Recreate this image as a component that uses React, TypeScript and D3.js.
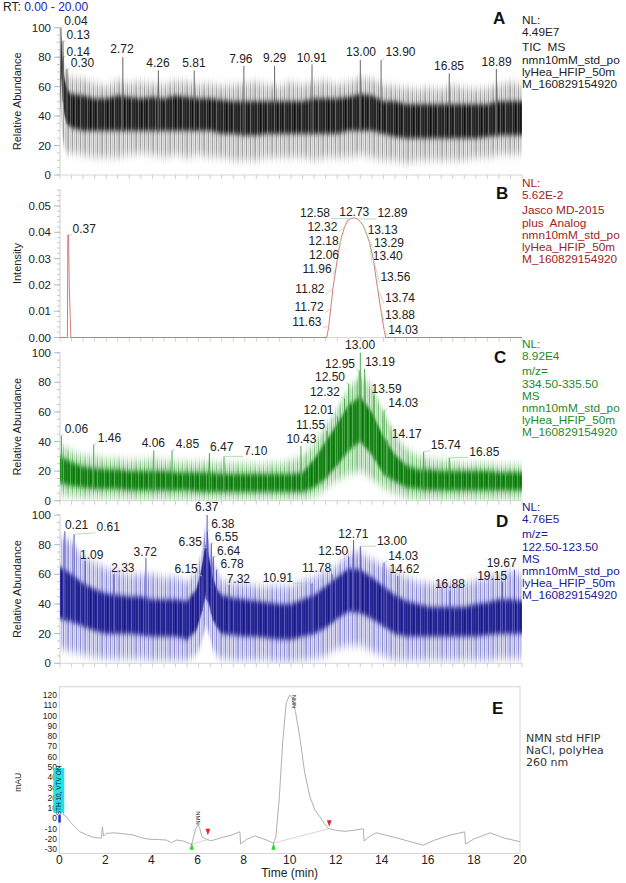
import React from "react";
import * as d3 from "d3";

const SANS = "'Liberation Sans', Arial, Helvetica, sans-serif";
const DEJAVU = "'DejaVu Sans', Verdana, sans-serif";

// ================= DATA =================
// Panel A – TIC MS, envelope of the noisy trace (relative abundance %)
const timeA = [0, 0.05, 0.1, 0.2, 0.3, 0.5, 1, 1.5, 2, 2.5, 3, 3.5, 4, 4.5, 5, 5.5, 6, 6.5, 7, 7.5, 8, 8.5, 9, 9.5, 10, 10.5, 11, 11.5, 12, 12.5, 13, 13.5, 14, 14.5, 15, 15.5, 16, 16.5, 17, 17.5, 18, 18.5, 19, 19.5, 20];
const hiA = [60, 100, 90, 75, 68, 66, 65, 62, 60, 64, 62, 63, 62, 61, 64, 63, 61, 62, 60, 61, 62, 63, 61, 60, 63, 61, 63, 64, 61, 63, 66, 65, 61, 60, 59, 58, 59, 58, 61, 59, 58, 59, 61, 63, 61];
const coreHiA = [55, 95, 80, 65, 58, 55, 54, 52, 52, 54, 53, 52, 53, 52, 54, 53, 52, 52, 51, 50, 50, 50, 50, 50, 50, 50, 52, 52, 52, 53, 55, 54, 50, 50, 48, 48, 48, 48, 48, 48, 48, 48, 50, 50, 50];
const coreLoA = [40, 70, 55, 40, 35, 32, 30, 30, 30, 30, 30, 30, 30, 30, 30, 30, 30, 30, 28, 28, 27, 27, 28, 28, 28, 28, 28, 28, 28, 30, 30, 30, 28, 26, 25, 25, 25, 25, 25, 25, 25, 26, 27, 27, 27];
const loA = [30, 40, 25, 18, 15, 15, 14, 12, 12, 12, 14, 15, 14, 12, 14, 12, 14, 12, 12, 10, 10, 10, 12, 12, 12, 12, 10, 12, 12, 12, 14, 12, 10, 10, 8, 10, 10, 10, 10, 10, 12, 12, 14, 14, 14];
// [label, peak time, peak value, label centre time, label baseline value]
const peaksA: [string, number, number, number, number][] = [
  ["0.04", 0.04, 100, 0.69, 102],
  ["0.13", 0.13, 91, 0.79, 92],
  ["0.14", 0.14, 81, 0.79, 81],
  ["0.30", 0.3, 72, 0.97, 73],
  ["2.72", 2.72, 80, 2.68, 83],
  ["4.26", 4.26, 71, 4.24, 73],
  ["5.81", 5.81, 71, 5.8, 73],
  ["7.96", 7.96, 74, 7.83, 76],
  ["9.29", 9.29, 74, 9.29, 76.4],
  ["10.91", 10.91, 75, 10.9, 77],
  ["13.00", 13.0, 78, 13.03, 80.5],
  ["13.90", 13.9, 78, 14.74, 80.5],
  ["16.85", 16.85, 69, 16.84, 71],
  ["18.89", 18.89, 72, 18.9, 73.7],
];
const infoA = ["NL:", "4.49E7", "TIC  MS", "nmn10mM_std_po", "lyHea_HFIP_50m", "M_160829154920"];

// Panel B – Jasco MD-2015 analog (intensity)
const timeB = [0, 0.32, 0.34, 0.37, 0.4, 0.47, 11.55, 11.63, 11.72, 11.82, 11.96, 12.06, 12.18, 12.32, 12.45, 12.58, 12.73, 12.89, 13.0, 13.13, 13.29, 13.4, 13.56, 13.74, 13.88, 14.03, 14.1, 20];
const valB = [0, 0, 0.039, 0.039, 0.02, 0, 0, 0.004, 0.011, 0.019, 0.027, 0.033, 0.038, 0.042, 0.0445, 0.0452, 0.0455, 0.045, 0.044, 0.0425, 0.039, 0.036, 0.03, 0.019, 0.011, 0.003, 0, 0];
const peaksB: [string, number, number, number, number][] = [
  ["0.37", 0.37, 0.039, 1.05, 0.0397],
  ["11.63", 11.63, 0.004, 10.69, 0.0045],
  ["11.72", 11.72, 0.011, 10.78, 0.01],
  ["11.82", 11.82, 0.019, 10.82, 0.0169],
  ["11.96", 11.96, 0.027, 11.13, 0.0245],
  ["12.06", 12.06, 0.033, 11.43, 0.0298],
  ["12.18", 12.18, 0.038, 11.41, 0.0352],
  ["12.32", 12.32, 0.042, 11.36, 0.0406],
  ["12.58", 12.58, 0.0452, 11.04, 0.0458],
  ["12.73", 12.73, 0.0455, 12.74, 0.0463],
  ["12.89", 12.89, 0.045, 14.39, 0.0457],
  ["13.13", 13.13, 0.0425, 13.97, 0.0394],
  ["13.29", 13.29, 0.039, 14.24, 0.0343],
  ["13.40", 13.4, 0.036, 14.19, 0.0295],
  ["13.56", 13.56, 0.03, 14.52, 0.0216],
  ["13.74", 13.74, 0.019, 14.72, 0.0134],
  ["13.88", 13.88, 0.011, 14.72, 0.007],
  ["14.03", 14.03, 0.003, 14.86, 0.0013],
];
const infoB = ["NL:", "5.62E-2", "Jasco MD-2015", "plus  Analog", "nmn10mM_std_po", "lyHea_HFIP_50m", "M_160829154920"];

// Panel C – m/z 334.50-335.50
const timeC = [0, 0.5, 1, 1.5, 2, 2.5, 3, 3.5, 4, 4.5, 5, 5.5, 6, 6.5, 7, 7.5, 8, 8.5, 9, 9.5, 10, 10.5, 11, 11.5, 12, 12.5, 13, 13.5, 14, 14.5, 15, 15.5, 16, 16.5, 17, 17.5, 18, 18.5, 19, 19.5, 20];
const hiC = [38, 33, 30, 30, 28, 28, 27, 27, 28, 27, 26, 26, 26, 26, 25, 25, 25, 24, 25, 25, 27, 30, 38, 50, 62, 76, 84, 78, 60, 45, 35, 30, 28, 27, 26, 25, 25, 25, 24, 24, 24];
const coreHiC = [30, 26, 23, 22, 21, 21, 20, 20, 20, 20, 19, 19, 19, 19, 18, 18, 18, 18, 18, 18, 18, 19, 28, 40, 52, 65, 70, 60, 43, 31, 24, 21, 21, 20, 20, 20, 20, 20, 19, 19, 19];
const coreLoC = [12, 10, 9, 8, 8, 8, 7, 7, 7, 7, 7, 7, 6, 6, 6, 6, 6, 6, 6, 6, 6, 6, 9, 15, 24, 34, 40, 31, 18, 13, 9, 8, 7, 7, 7, 7, 7, 7, 7, 7, 7];
const loC = [4, 3, 2, 2, 2, 2, 1, 1, 1, 1, 1, 1, 1, 1, 1, 1, 1, 1, 1, 1, 1, 1, 3, 8, 14, 18, 20, 15, 9, 5, 2, 1, 1, 1, 1, 1, 1, 1, 1, 1, 1];
const peaksC: [string, number, number, number, number][] = [
  ["0.06", 0.06, 44, 0.71, 45.7],
  ["1.46", 1.46, 38, 2.14, 39.9],
  ["4.06", 4.06, 34, 4.04, 36],
  ["4.85", 4.85, 34, 5.52, 35.4],
  ["6.47", 6.47, 32, 7.0, 33.4],
  ["7.10", 7.1, 30, 8.47, 30.9],
  ["10.43", 10.43, 37, 10.45, 38.8],
  ["11.55", 11.55, 47, 10.85, 48.4],
  ["12.01", 12.01, 57, 11.19, 58.6],
  ["12.32", 12.32, 69, 11.47, 70.9],
  ["12.50", 12.5, 79, 11.69, 81],
  ["12.95", 12.95, 88, 12.12, 90],
  ["13.00", 13.0, 100, 12.99, 102.5],
  ["13.19", 13.19, 89, 13.85, 90.8],
  ["13.59", 13.59, 71, 14.14, 72.6],
  ["14.03", 14.03, 61, 14.86, 63.1],
  ["14.17", 14.17, 41, 15.01, 42.4],
  ["15.74", 15.74, 33, 16.7, 34.9],
  ["16.85", 16.85, 29, 18.37, 30.4],
];
const infoC = ["NL:", "8.92E4", "m/z=", "334.50-335.50", "MS", "nmn10mM_std_po", "lyHea_HFIP_50m", "M_160829154920"];

// Panel D – m/z 122.50-123.50
const timeD = [0, 0.5, 1, 1.5, 2, 2.5, 3, 3.5, 4, 4.5, 5, 5.5, 5.9, 6.1, 6.3, 6.45, 6.6, 6.8, 7, 7.5, 8, 8.5, 9, 9.5, 10, 10.5, 11, 11.5, 12, 12.5, 13, 13.5, 14, 14.5, 15, 15.5, 16, 16.5, 17, 17.5, 18, 18.5, 19, 19.5, 20];
const hiD = [85, 82, 72, 68, 64, 62, 60, 60, 60, 58, 58, 55, 62, 72, 92, 82, 70, 62, 56, 54, 54, 52, 52, 52, 52, 56, 58, 62, 66, 74, 75, 70, 66, 62, 58, 55, 54, 54, 54, 54, 56, 58, 60, 62, 60];
const coreHiD = [65, 60, 54, 50, 47, 46, 45, 45, 43, 43, 43, 42, 50, 62, 80, 72, 58, 50, 46, 44, 43, 42, 41, 40, 40, 43, 46, 52, 58, 64, 63, 58, 52, 46, 42, 40, 38, 38, 38, 38, 40, 41, 43, 43, 42];
const coreLoD = [30, 28, 25, 22, 20, 20, 20, 19, 18, 18, 18, 16, 22, 32, 45, 40, 30, 24, 20, 19, 18, 18, 17, 16, 16, 18, 20, 24, 30, 35, 34, 30, 25, 20, 18, 18, 18, 18, 18, 18, 18, 19, 20, 20, 20];
const loD = [10, 8, 6, 4, 3, 3, 3, 3, 2, 2, 2, 2, 6, 12, 25, 20, 10, 5, 3, 2, 2, 2, 2, 1, 1, 2, 3, 5, 10, 12, 12, 8, 5, 2, 2, 2, 2, 2, 2, 2, 2, 2, 3, 3, 3];
const peaksD: [string, number, number, number, number][] = [
  ["0.21", 0.21, 89, 0.72, 90.6],
  ["0.61", 0.61, 87, 2.09, 89],
  ["1.09", 1.09, 69, 1.37, 70.3],
  ["2.33", 2.33, 60, 2.72, 61.8],
  ["3.72", 3.72, 71, 3.69, 72.1],
  ["6.15", 6.15, 59, 5.46, 60.9],
  ["6.35", 6.35, 78, 5.64, 78.9],
  ["6.37", 6.37, 100, 6.35, 102.5],
  ["6.38", 6.38, 89, 7.05, 91.2],
  ["6.55", 6.55, 81, 7.21, 82.3],
  ["6.64", 6.64, 72, 7.3, 73],
  ["6.78", 6.78, 63, 7.45, 64],
  ["7.32", 7.32, 53, 7.72, 54.1],
  ["10.91", 10.91, 54, 9.43, 55],
  ["11.78", 11.78, 60, 11.11, 61.4],
  ["12.50", 12.5, 72, 11.83, 73.2],
  ["12.71", 12.71, 83, 12.7, 84.5],
  ["13.00", 13.0, 79, 14.37, 80],
  ["14.03", 14.03, 68, 14.86, 69.9],
  ["14.62", 14.62, 59, 14.91, 60.7],
  ["16.88", 16.88, 49, 16.88, 50.6],
  ["19.15", 19.15, 55, 18.71, 56.2],
  ["19.67", 19.67, 63, 19.12, 64.7],
];
const infoD = ["NL:", "4.76E5", "m/z=", "122.50-123.50", "MS", "nmn10mM_std_po", "lyHea_HFIP_50m", "M_160829154920"];

// Panel E – UV 260 nm (mAU)
const timeE = [0.1, 0.2, 0.31, 0.5, 0.89, 1.2, 1.47, 1.83, 1.87, 1.92, 2.05, 2.4, 2.8, 3.2, 3.6, 3.93, 4.3, 4.65, 4.87, 5.1, 5.4, 5.67, 5.75, 5.92, 6.03, 6.1, 6.2, 6.39, 6.6, 7.1, 7.5, 7.84, 7.87, 8.13, 8.49, 9.0, 9.3, 9.4, 9.55, 9.7, 9.85, 10.0, 10.12, 10.25, 10.44, 10.65, 10.88, 11.1, 11.31, 11.5, 11.67, 12.0, 12.4, 12.8, 13.2, 13.23, 13.5, 13.75, 14.5, 15.3, 15.8, 16.3, 17.0, 17.6, 17.63, 18.0, 18.7, 19.3, 20.0];
const valE = [10, 3, 1.7, -4, -12.9, -16, -18.3, -19.3, -8, -17, -14.5, -14, -15, -16, -19, -20.3, -20.5, -21, -23.6, -21, -22, -24.8, -25, -10, -6, -10, -18, -20.3, -21.7, -18.3, -16, -12.9, -24.8, -20.3, -17, -21, -24, -18, 20, 75, 112, 120, 117, 104, 79, 45, 21, 8, 1.7, -5, -9.6, -11.5, -12.5, -11.5, -10, -22, -17, -14, -18, -23, -26, -21, -16, -13, -25, -20, -14, -19, -22.6];
const baselinesE: [number, number, number, number][] = [
  [5.75, -25, 6.45, -20.5],
  [9.3, -24, 11.7, -10],
];
const peakStartsE = [5.75, 9.3];
const peakEndsE: [number, number][] = [[6.45, -15], [11.72, -6.5]];
const peakNamesE: [string, number, number][] = [["NMN", 6.0, 0.4], ["NMN", 10.21, 113.6]];
const eventE: [string, number, number, number] = ["STH 10, VTV ON", 0, 5.5, 49];
const ticksE_y = [120, 110, 100, 90, 80, 70, 60, 50, 40, 30, 20, 10, 0, -10, -20, -30];
const ticksE_x = [0, 2, 4, 6, 8, 10, 12, 14, 16, 18, 20];
const infoE = ["NMN std HFIP", "NaCl, polyHea", "260 nm"];

const ticksPct = [0, 20, 40, 60, 80, 100];
const ticksB = [0, 0.01, 0.02, 0.03, 0.04, 0.05];

// ================= HELPERS =================
const X0 = 60, X1 = 522;
const xMS = d3.scaleLinear().domain([0, 20]).range([X0, X1]);

function interp(times: number[], vals: number[], t: number) {
  const i = d3.bisectRight(times, t);
  if (i <= 0) return vals[0];
  if (i >= times.length) return vals[vals.length - 1];
  const t0 = times[i - 1], t1 = times[i];
  return vals[i - 1] + ((vals[i] - vals[i - 1]) * (t - t0)) / (t1 - t0);
}

const labelW = (s: string) => [...s].reduce((w, c) => w + (c === "." ? 3.34 : 6.67), 0);

function PeakLabels({ peaks, y }: { peaks: [string, number, number, number, number][]; y: d3.ScaleLinear<number, number> }) {
  return (
    <g>
      {peaks.map(([lab, pt, pv, lt, lv], i) => {
        const cx = xMS(lt), base = y(lv), w = labelW(lab);
        const left = cx - w / 2, right = cx + w / 2;
        const px = xMS(pt), py = y(pv);
        let leader: number[] | null = null;
        if (px < left - 1) leader = [px, py, left - 1, base + 1.5];
        else if (px > right + 1) leader = [px, py, right + 1, base + 1.5];
        return (
          <g key={i}>
            {leader && <line x1={leader[0]} y1={leader[1]} x2={leader[2]} y2={leader[3]} stroke="#a6d8a6" strokeWidth={0.8} />}
            <text x={cx} y={base} textAnchor="middle" fontSize={12} fill="#222" fontFamily={SANS}>{lab}</text>
          </g>
        );
      })}
    </g>
  );
}

function Axes({ y, major, minor, fmt, yMax, label }: { y: d3.ScaleLinear<number, number>; major: number[]; minor: number[]; fmt: (v: number) => string; yMax: number; label: string }) {
  const y0 = y(0);
  const xt = d3.range(0, 20.001, 0.5);
  const mid = (y(0) + y(yMax)) / 2;
  return (
    <g>
      <line x1={X0} x2={X0} y1={y0} y2={y(yMax)} stroke="#cfcfcf" />
      <line x1={X0} x2={X1} y1={y0} y2={y0} stroke="#d6d6d6" />
      {minor.map((v, i) => (
        <line key={"m" + i} x1={X0 - 3} x2={X0} y1={y(v)} y2={y(v)} stroke="#c8c8c8" />
      ))}
      {major.map((v, i) => (
        <g key={"M" + i}>
          <line x1={X0 - 6} x2={X0} y1={y(v)} y2={y(v)} stroke="#bbb" />
          <text x={X0 - 9} y={y(v) + 4} textAnchor="end" fontSize={11.5} fill="#222" fontFamily={SANS}>{fmt(v)}</text>
        </g>
      ))}
      {xt.map((t, i) => (
        <line key={"x" + i} x1={xMS(t)} x2={xMS(t)} y1={y0} y2={y0 + 4} stroke="#cfcfcf" />
      ))}
      <text transform={`translate(21,${mid}) rotate(-90)`} textAnchor="middle" fontSize={11} fill="#222" fontFamily={SANS}>{label}</text>
    </g>
  );
}

function Info({ lines, x, y, color, font, size, gapAfter }: { lines: string[]; x: number; y: number; color: string; font: string; size: number; gapAfter: number }) {
  let yy = y;
  return (
    <text fontSize={size} fill={color} fontFamily={font}>
      {lines.map((l, i) => {
        const cur = yy;
        yy += 12.2 + (i === gapAfter ? 3 : 0);
        return <tspan key={i} x={x} y={cur} style={{ whiteSpace: "pre" }}>{l}</tspan>;
      })}
    </text>
  );
}

type Pal = { outerBg: string; outerStripe: string; core: string; coreDark: string; coreLight: string; spike: string };

// irregular stripe layouts (styling only): [x, width, opacity]
const OUTER_STRIPES: [number, number, number][] = [[0, 0.8, 0.9], [2.3, 0.5, 0.55], [3.9, 0.9, 1], [6.2, 0.6, 0.5], [8.0, 1.0, 0.8], [10.6, 0.5, 0.7], [12.1, 0.8, 1], [14.5, 0.6, 0.6], [15.8, 0.7, 0.9]];
const CORE_DARK: [number, number, number][] = [[0.5, 0.9, 1], [3.1, 0.6, 0.8], [5.2, 1.1, 1], [8.4, 0.7, 0.9], [10.3, 1.0, 1], [13.6, 0.6, 0.8], [15.5, 0.9, 1]];
const CORE_LIGHT: [number, number, number][] = [[2.0, 0.6, 0.8], [7.0, 0.7, 0.6], [12.0, 0.6, 0.9], [16.6, 0.4, 0.5]];

function Patterns({ id, pal }: { id: string; pal: Pal }) {
  return (
    <>
      <pattern id={id + "-o"} patternUnits="userSpaceOnUse" width={17} height={10}>
        <rect width={17} height={10} fill={pal.outerBg} />
        {OUTER_STRIPES.map(([x, w, o], i) => (
          <rect key={i} x={x} width={w} height={10} fill={pal.outerStripe} opacity={o} />
        ))}
      </pattern>
      <pattern id={id + "-c"} patternUnits="userSpaceOnUse" width={17} height={10}>
        <rect width={17} height={10} fill={pal.core} />
        {CORE_DARK.map(([x, w, o], i) => (
          <rect key={"d" + i} x={x} width={w} height={10} fill={pal.coreDark} opacity={o} />
        ))}
        {CORE_LIGHT.map(([x, w, o], i) => (
          <rect key={"l" + i} x={x} width={w} height={10} fill={pal.coreLight} opacity={o} />
        ))}
      </pattern>
      <filter id={id + "-blurO"} x="-2%" y="-30%" width="104%" height="160%">
        <feGaussianBlur stdDeviation="0 4" />
      </filter>
      <filter id={id + "-blurC"} x="-2%" y="-30%" width="104%" height="160%">
        <feGaussianBlur stdDeviation="0 2.5" />
      </filter>
    </>
  );
}

function NoisePanel({ id, y, times, lo, coreLo, coreHi, hi, peaks, pal }: { id: string; y: d3.ScaleLinear<number, number>; times: number[]; lo: number[]; coreLo: number[]; coreHi: number[]; hi: number[]; peaks: [string, number, number, number, number][]; pal: Pal }) {
  const outer = d3.area<number>().x((_, i) => xMS(times[i])).y0((_, i) => y(lo[i])).y1((_, i) => y(hi[i]))(times) || "";
  const core = d3.area<number>().x((_, i) => xMS(times[i])).y0((_, i) => y(coreLo[i])).y1((_, i) => y(coreHi[i]))(times) || "";
  return (
    <g>
      <defs>
        <Patterns id={id} pal={pal} />
        <clipPath id={id + "-clip"}>
          <rect x={X0} y={y(100) - 5} width={X1 - X0} height={y(0) - y(100) + 5} />
        </clipPath>
      </defs>
      <g clipPath={`url(#${id}-clip)`}>
        <path d={outer} fill={`url(#${id}-o)`} filter={`url(#${id}-blurO)`} />
        <path d={core} fill={`url(#${id}-c)`} filter={`url(#${id}-blurC)`} />
      </g>
      {peaks.map(([, pt, pv], i) => {
        const bottom = interp(times, coreLo, pt);
        return <line key={i} x1={xMS(pt)} x2={xMS(pt)} y1={y(bottom)} y2={y(pv)} stroke={pal.spike} strokeWidth={1} />;
      })}
      <PeakLabels peaks={peaks} y={y} />
    </g>
  );
}

const Letter = ({ x, y, t }: { x: number; y: number; t: string }) => (
  <text x={x} y={y} fontSize={17} fontWeight="bold" fill="#111" fontFamily={SANS}>{t}</text>
);

export default function App() {
  const yA = d3.scaleLinear().domain([0, 100]).range([175, 27.7]);
  const yB = d3.scaleLinear().domain([0, 0.0562]).range([337.5, 189.7]);
  const yC = d3.scaleLinear().domain([0, 100]).range([500.7, 352.7]);
  const yD = d3.scaleLinear().domain([0, 100]).range([663.3, 515]);

  const xE = d3.scaleLinear().domain([0, 20]).range([59.3, 520]);
  const yE = d3.scaleLinear().domain([-30, 120]).range([849.3, 695]);

  const pctMinor = d3.range(0, 100.001, 5);
  const bMinor = d3.range(0, 0.0561, 0.002);

  const lineB = d3.line<number>().x((_, i) => xMS(timeB[i])).y((_, i) => yB(valB[i]))(timeB) || "";
  const lineE = d3.line<number>().x((_, i) => xE(timeE[i])).y((_, i) => yE(valE[i]))(timeE) || "";

  const palA: Pal = { outerBg: "#e2e2e2", outerStripe: "#8e8e8e", core: "#3c3c3c", coreDark: "#050505", coreLight: "#8a8a8a", spike: "#666" };
  const palC: Pal = { outerBg: "#d3ecd3", outerStripe: "#62b462", core: "#1f931f", coreDark: "#0a660a", coreLight: "#7fcc7f", spike: "#4aa84a" };
  const palD: Pal = { outerBg: "#dcdcf4", outerStripe: "#7878d0", core: "#3232a2", coreDark: "#10107a", coreLight: "#8080d0", spike: "#5555b8" };

  return (
    <svg width={626} height={883} style={{ position: "absolute", left: 0, top: 0, background: "#fff" }} fontFamily={SANS}>
      <rect width={626} height={883} fill="#fff" />
      <text x={3} y={11} fontSize={12} fill="#222" fontFamily={SANS}>
        RT: <tspan fill="#2323b4">0.00 - 20.00</tspan>
      </text>

      {/* Panel A */}
      <Axes y={yA} major={ticksPct} minor={pctMinor} fmt={(v) => String(v)} yMax={100} label="Relative Abundance" />
      <NoisePanel id="pa" y={yA} times={timeA} lo={loA} coreLo={coreLoA} coreHi={coreHiA} hi={hiA} peaks={peaksA} pal={palA} />
      <Letter x={493} y={24} t="A" />
      <Info lines={infoA} x={522} y={24} color="#222" font={SANS} size={11.8} gapAfter={1} />

      {/* Panel B */}
      <Axes y={yB} major={ticksB} minor={bMinor} fmt={(v) => v.toFixed(2)} yMax={0.0562} label="Intensity" />
      <path d={lineB} fill="none" stroke="#d46a6a" strokeWidth={0.9} />
      <PeakLabels peaks={peaksB} y={yB} />
      <Letter x={496} y={199} t="B" />
      <Info lines={infoB} x={522} y={187} color="#a31c1c" font={SANS} size={11.8} gapAfter={1} />

      {/* Panel C */}
      <Axes y={yC} major={ticksPct} minor={pctMinor} fmt={(v) => String(v)} yMax={100} label="Relative Abundance" />
      <NoisePanel id="pc" y={yC} times={timeC} lo={loC} coreLo={coreLoC} coreHi={coreHiC} hi={hiC} peaks={peaksC} pal={palC} />
      <Letter x={494} y={363} t="C" />
      <Info lines={infoC} x={522} y={348} color="#1f8a1f" font={SANS} size={11.8} gapAfter={1} />

      {/* Panel D */}
      <Axes y={yD} major={ticksPct} minor={pctMinor} fmt={(v) => String(v)} yMax={100} label="Relative Abundance" />
      <NoisePanel id="pd" y={yD} times={timeD} lo={loD} coreLo={coreLoD} coreHi={coreHiD} hi={hiD} peaks={peaksD} pal={palD} />
      <Letter x={496} y={527} t="D" />
      <Info lines={infoD} x={522} y={511} color="#20209a" font={SANS} size={11.8} gapAfter={1} />

      {/* Panel E */}
      <rect x={xE(0)} y={yE(128)} width={xE(20) - xE(0)} height={yE(-34) - yE(128)} fill="none" stroke="#d4d4d4" />
      {ticksE_y.map((v) => (
        <text key={v} x={57} y={yE(v) + 3} textAnchor="end" fontSize={8.5} fill="#222" fontFamily={SANS}>{v}</text>
      ))}
      {ticksE_x.map((t) => (
        <text key={t} x={xE(t)} y={864} textAnchor="middle" fontSize={12} fill="#222" fontFamily={SANS}>{t}</text>
      ))}
      <text x={(xE(0) + xE(20)) / 2} y={877} textAnchor="middle" fontSize={12} fill="#222" fontFamily={SANS}>Time (min)</text>
      <text transform={`translate(21,${yE(35)}) rotate(-90)`} textAnchor="middle" fontSize={8.5} fill="#222" fontFamily={SANS}>mAU</text>

      {baselinesE.map(([t0, v0, t1, v1], i) => (
        <line key={i} x1={xE(t0)} y1={yE(v0)} x2={xE(t1)} y2={yE(v1)} stroke="#d0d0d0" strokeWidth={0.9} />
      ))}
      <path d={lineE} fill="none" stroke="#b0b0b0" strokeWidth={1} />

      {/* event marker */}
      <rect x={xE(eventE[1]) - 6} y={yE(eventE[3])} width={11} height={yE(eventE[2]) - yE(eventE[3])} fill="#21e0e6" />
      <text transform={`translate(${xE(eventE[1]) + 2},${(yE(eventE[2]) + yE(eventE[3])) / 2}) rotate(-90)`} textAnchor="middle" fontSize={6.5} fill="#122" fontFamily={SANS}>{eventE[0]}</text>
      <rect x={xE(0) - 1} y={yE(3.3)} width={2.5} height={yE(-4) - yE(3.3)} fill="#2a2ad0" />

      {peakNamesE.map(([n, t, v], i) => (
        <text key={i} transform={`translate(${xE(t) - 2},${yE(v)}) rotate(90)`} textAnchor="middle" fontSize={6} fill="#333" fontFamily={SANS}>{n}</text>
      ))}
      {peakStartsE.map((t, i) => {
        const cx = xE(t), by = yE(-30.5);
        return <path key={i} d={`M${cx - 2.2},${by} L${cx + 2.2},${by} L${cx},${by - 7} Z`} fill="#22dd22" />;
      })}
      {peakEndsE.map(([t, v], i) => {
        const cx = xE(t), ty = yE(v);
        return <path key={i} d={`M${cx - 2.4},${ty - 5} L${cx + 2.4},${ty - 5} L${cx},${ty + 1.5} Z`} fill="#ee2020" />;
      })}
      <Letter x={492} y={714} t="E" />
      <Info lines={infoE} x={526} y={742} color="#333" font={DEJAVU} size={11} gapAfter={-1} />
    </svg>
  );
}
